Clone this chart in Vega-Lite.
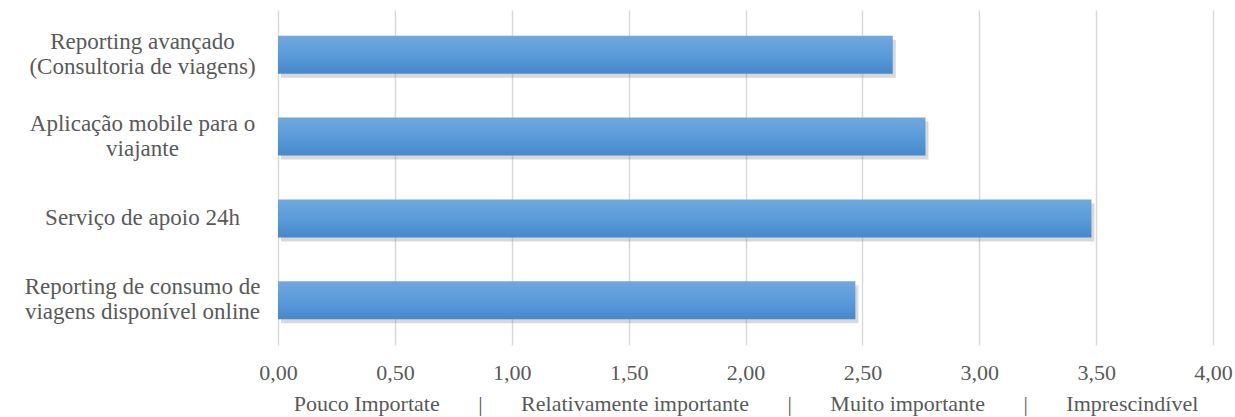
{
  "$schema": "https://vega.github.io/schema/vega-lite/v6.json",
  "autosize": {"type": "none"},
  "padding": {"left": 278, "top": 10, "right": 22, "bottom": 72},
  "width": 935,
  "height": 335,
  "background": "white",
  "config": {
    "view": {"stroke": null},
    "font": "Times New Roman, Liberation Serif, DejaVu Serif, serif"
  },
  "data": {
    "values": [
      {"item": "Reporting avançado\n(Consultoria de viagens)", "score": 2.63},
      {"item": "Aplicação mobile para o\nviajante", "score": 2.77},
      {"item": "Serviço de apoio 24h", "score": 3.48},
      {"item": "Reporting de consumo de\nviagens disponível online", "score": 2.47}
    ]
  },
  "encoding": {
    "y": {
      "field": "item",
      "type": "nominal",
      "sort": null,
      "scale": {"paddingInner": 0.536, "paddingOuter": 0.315},
      "axis": {
        "title": null,
        "domain": false,
        "ticks": false,
        "labelExpr": "split(datum.label, '\\n')",
        "labelAlign": "center",
        "labelPadding": 136,
        "labelOffset": {"condition": {"test": "indexof(datum.value, '\\n') >= 0", "value": -13}, "value": 0},
        "labelFont": "Times New Roman, Liberation Serif, DejaVu Serif, serif",
        "labelFontSize": 23,
        "labelLineHeight": 25,
        "labelColor": "#595959",
        "labelLimit": 400,
        "labelOverlap": false,
        "labelBound": false
      }
    },
    "x": {
      "field": "score",
      "type": "quantitative",
      "scale": {"domain": [0, 4], "nice": false},
      "axis": {
        "values": [0, 0.5, 1, 1.5, 2, 2.5, 3, 3.5, 4],
        "labelExpr": "replace(format(datum.value, '.2f'), '.', ',')",
        "domain": false,
        "ticks": false,
        "grid": true,
        "gridColor": "#d9d9d9",
        "gridWidth": 1.5,
        "labelFont": "Times New Roman, Liberation Serif, DejaVu Serif, serif",
        "labelFontSize": 22,
        "labelColor": "#595959",
        "labelPadding": 17,
        "labelFlush": false,
        "title": "Pouco Importate\u00a0\u00a0\u00a0\u00a0\u00a0\u00a0\u00a0|\u00a0\u00a0\u00a0\u00a0\u00a0\u00a0\u00a0Relativamente importante\u00a0\u00a0\u00a0\u00a0\u00a0\u00a0\u00a0|\u00a0\u00a0\u00a0\u00a0\u00a0\u00a0\u00a0Muito importante\u00a0\u00a0\u00a0\u00a0\u00a0\u00a0\u00a0|\u00a0\u00a0\u00a0\u00a0\u00a0\u00a0\u00a0Imprescindível",
        "titleFont": "Times New Roman, Liberation Serif, DejaVu Serif, serif",
        "titleFontSize": 22,
        "titleFontWeight": "normal",
        "titleColor": "#595959",
        "titlePadding": 10
      }
    }
  },
  "layer": [
    {
      "mark": {"type": "bar", "color": "#7f7f7f", "opacity": 0.3, "xOffset": 3, "yOffset": 4}
    },
    {
      "mark": {
        "type": "bar",
        "color": {
          "gradient": "linear",
          "x1": 0, "y1": 0, "x2": 0, "y2": 1,
          "stops": [
            {"offset": 0, "color": "#71a8de"},
            {"offset": 0.5, "color": "#5a9bda"},
            {"offset": 1, "color": "#4688cb"}
          ]
        }
      }
    }
  ]
}
